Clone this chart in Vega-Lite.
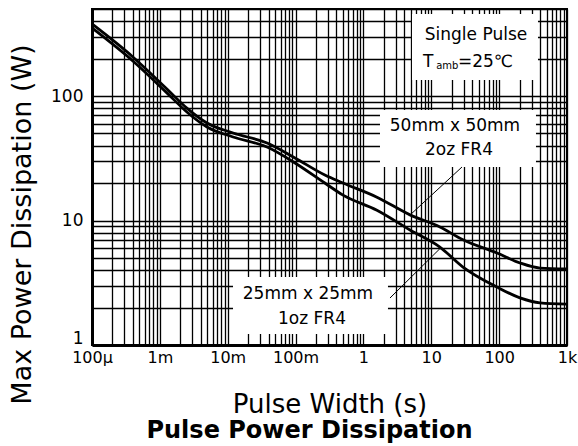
{
  "$schema": "https://vega.github.io/schema/vega-lite/v6.json",
  "width": 475,
  "height": 336,
  "autosize": {"type": "none"},
  "padding": {"left": 92, "top": 9, "right": 11, "bottom": 101},
  "background": "white",
  "title": {
    "text": "Pulse Power Dissipation",
    "orient": "bottom",
    "anchor": "middle",
    "frame": "group",
    "dx": -20,
    "offset": 21,
    "baseline": "alphabetic",
    "font": "DejaVu Sans",
    "fontSize": 24,
    "fontWeight": "bold",
    "color": "black"
  },
  "config": {
    "font": "DejaVu Sans",
    "view": {"stroke": "black", "strokeWidth": 2},
    "axis": {
      "grid": true,
      "gridColor": "black",
      "gridOpacity": 1,
      "gridWidth": 1.3,
      "ticks": false,
      "tickSize": 0,
      "domain": true,
      "domainColor": "black",
      "domainWidth": 3,
      "labelFont": "DejaVu Sans",
      "labelColor": "black",
      "labelOverlap": false,
      "labelFlush": false,
      "labelBound": false,
      "titleFont": "DejaVu Sans",
      "titleColor": "black",
      "titleFontWeight": "normal"
    }
  },
  "datasets": {
    "curves": [
      {"series": "50mm x 50mm 2oz FR4", "x": 0.0001, "y": 379},
      {"series": "50mm x 50mm 2oz FR4", "x": 0.0004, "y": 206},
      {"series": "50mm x 50mm 2oz FR4", "x": 0.00127, "y": 114},
      {"series": "50mm x 50mm 2oz FR4", "x": 0.0025, "y": 80},
      {"series": "50mm x 50mm 2oz FR4", "x": 0.00495, "y": 60.7},
      {"series": "50mm x 50mm 2oz FR4", "x": 0.012, "y": 50.5},
      {"series": "50mm x 50mm 2oz FR4", "x": 0.038, "y": 41.9},
      {"series": "50mm x 50mm 2oz FR4", "x": 0.098, "y": 31.8},
      {"series": "50mm x 50mm 2oz FR4", "x": 0.27, "y": 23.2},
      {"series": "50mm x 50mm 2oz FR4", "x": 0.5, "y": 20},
      {"series": "50mm x 50mm 2oz FR4", "x": 1.58, "y": 15.4},
      {"series": "50mm x 50mm 2oz FR4", "x": 4.86, "y": 11.1},
      {"series": "50mm x 50mm 2oz FR4", "x": 13.4, "y": 8.87},
      {"series": "50mm x 50mm 2oz FR4", "x": 29.3, "y": 7.0},
      {"series": "50mm x 50mm 2oz FR4", "x": 93, "y": 5.48},
      {"series": "50mm x 50mm 2oz FR4", "x": 203, "y": 4.56},
      {"series": "50mm x 50mm 2oz FR4", "x": 400, "y": 4.15},
      {"series": "50mm x 50mm 2oz FR4", "x": 1000, "y": 4.08},
      {"series": "25mm x 25mm 1oz FR4", "x": 0.0001, "y": 352},
      {"series": "25mm x 25mm 1oz FR4", "x": 0.0004, "y": 191},
      {"series": "25mm x 25mm 1oz FR4", "x": 0.00127, "y": 106},
      {"series": "25mm x 25mm 1oz FR4", "x": 0.0025, "y": 74.4},
      {"series": "25mm x 25mm 1oz FR4", "x": 0.00495, "y": 56.4},
      {"series": "25mm x 25mm 1oz FR4", "x": 0.012, "y": 46.9},
      {"series": "25mm x 25mm 1oz FR4", "x": 0.038, "y": 38.9},
      {"series": "25mm x 25mm 1oz FR4", "x": 0.098, "y": 29},
      {"series": "25mm x 25mm 1oz FR4", "x": 0.27, "y": 20},
      {"series": "25mm x 25mm 1oz FR4", "x": 0.5, "y": 16},
      {"series": "25mm x 25mm 1oz FR4", "x": 1.58, "y": 12.1},
      {"series": "25mm x 25mm 1oz FR4", "x": 4.86, "y": 8.39},
      {"series": "25mm x 25mm 1oz FR4", "x": 13.4, "y": 6.12},
      {"series": "25mm x 25mm 1oz FR4", "x": 29.3, "y": 4.23},
      {"series": "25mm x 25mm 1oz FR4", "x": 93, "y": 2.92},
      {"series": "25mm x 25mm 1oz FR4", "x": 203, "y": 2.39},
      {"series": "25mm x 25mm 1oz FR4", "x": 400, "y": 2.18},
      {"series": "25mm x 25mm 1oz FR4", "x": 1000, "y": 2.13}
    ],
    "boxes": [
      {"x": 5.195, "x2": 373.6, "y": 456, "y2": 134.5},
      {"x": 1.754, "x2": 349, "y": 77.2, "y2": 26.9},
      {"x": 0.01197, "x2": 2.3, "y": 3.52, "y2": 1.226}
    ],
    "leaders": [
      {"x": 28.35, "y": 26.9, "x2": 4.69, "y2": 10.87},
      {"x": 2.463, "y": 2.385, "x2": 13.43, "y2": 5.95}
    ],
    "notes": [
      {"label": "Single Pulse", "x": 45.6, "y": 281.8},
      {"label": "50mm x 50mm", "x": 22.34, "y": 52.3},
      {"label": "2oz FR4", "x": 25.6, "y": 33.6},
      {"label": "25mm x 25mm", "x": 0.1524, "y": 2.342},
      {"label": "1oz FR4", "x": 0.1746, "y": 1.475}
    ],
    "leftnotes": [
      {"label": "T", "x": 7.545, "y": 171},
      {"label": "=25℃", "x": 24.74, "y": 171}
    ],
    "subnotes": [
      {"label": "amb", "x": 11.8, "y": 164}
    ]
  },
  "encoding": {
    "x": {
      "field": "x",
      "type": "quantitative",
      "scale": {"type": "log", "domain": [0.0001, 1000], "nice": false},
      "axis": {
        "title": "Pulse Width (s)",
        "titleFontSize": 26,
        "titleY": 67,
        "titleBaseline": "alphabetic",
        "labelFontSize": 16,
        "labelBaseline": "alphabetic",
        "labelPadding": 17,
        "values": [0.0001, 0.0002, 0.0003, 0.0004, 0.0005, 0.0006, 0.0007, 0.0008, 0.0009,
                   0.001, 0.002, 0.003, 0.004, 0.005, 0.006, 0.007, 0.008, 0.009,
                   0.01, 0.02, 0.03, 0.04, 0.05, 0.06, 0.07, 0.08, 0.09,
                   0.1, 0.2, 0.3, 0.4, 0.5, 0.6, 0.7, 0.8, 0.9,
                   1, 2, 3, 4, 5, 6, 7, 8, 9,
                   10, 20, 30, 40, 50, 60, 70, 80, 90,
                   100, 200, 300, 400, 500, 600, 700, 800, 900, 1000],
        "labelExpr": "datum.value == 0.0001 ? '100μ' : datum.value == 0.001 ? '1m' : datum.value == 0.01 ? '10m' : datum.value == 0.1 ? '100m' : datum.value == 1 ? '1' : datum.value == 10 ? '10' : datum.value == 100 ? '100' : datum.value == 1000 ? '1k' : ''"
      }
    },
    "y": {
      "field": "y",
      "type": "quantitative",
      "scale": {"type": "log", "domain": [1, 500], "nice": false},
      "axis": {
        "title": "Max Power Dissipation (W)",
        "titleFontSize": 27,
        "titleAngle": -90,
        "titleX": -62,
        "titleY": 215,
        "titleAlign": "center",
        "titleBaseline": "alphabetic",
        "labelFontSize": 17,
        "labelPadding": 9,
        "labelOffset": {"condition": {"test": "datum.value == 1", "value": -7}, "value": 0},
        "values": [1, 2, 3, 4, 5, 6, 7, 8, 9,
                   10, 20, 30, 40, 50, 60, 70, 80, 90,
                   100, 200, 300, 400, 500],
        "labelExpr": "datum.value == 1 ? '1' : datum.value == 10 ? '10' : datum.value == 100 ? '100' : ''"
      }
    }
  },
  "layer": [
    {
      "data": {"name": "boxes"},
      "mark": {"type": "rect", "fill": "white", "stroke": null},
      "encoding": {
        "x2": {"field": "x2"},
        "y2": {"field": "y2"}
      }
    },
    {
      "data": {"name": "curves"},
      "mark": {"type": "line", "color": "black", "strokeWidth": 2.8, "interpolate": "monotone"},
      "encoding": {
        "detail": {"field": "series", "type": "nominal"}
      }
    },
    {
      "data": {"name": "leaders"},
      "mark": {"type": "rule", "color": "black", "strokeWidth": 1},
      "encoding": {
        "x2": {"field": "x2"},
        "y2": {"field": "y2"}
      }
    },
    {
      "data": {"name": "notes"},
      "mark": {"type": "text", "align": "center", "baseline": "alphabetic", "font": "DejaVu Sans", "fontSize": 17, "color": "black"},
      "encoding": {
        "text": {"field": "label", "type": "nominal"}
      }
    },
    {
      "data": {"name": "leftnotes"},
      "mark": {"type": "text", "align": "left", "baseline": "alphabetic", "font": "DejaVu Sans", "fontSize": 17, "color": "black"},
      "encoding": {
        "text": {"field": "label", "type": "nominal"}
      }
    },
    {
      "data": {"name": "subnotes"},
      "mark": {"type": "text", "align": "left", "baseline": "alphabetic", "font": "DejaVu Sans", "fontSize": 10, "color": "black"},
      "encoding": {
        "text": {"field": "label", "type": "nominal"}
      }
    }
  ]
}
